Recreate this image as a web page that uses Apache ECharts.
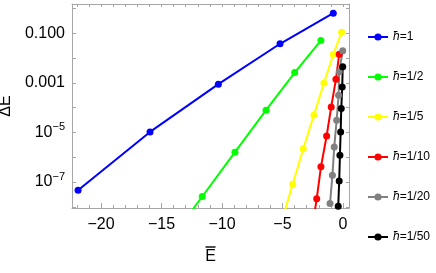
<!DOCTYPE html>
<html>
<head>
<meta charset="utf-8">
<script src="https://cdn.jsdelivr.net/npm/echarts@6/dist/echarts.min.js"></script>
<style>
html,body{margin:0;padding:0;background:#fff;}
#c{width:436px;height:273px;}
</style>
</head>
<body>
<div id="c"></div>
<script>
// ---- data ----
const seriesNames = ['1', '1/2', '1/5', '1/10', '1/20', '1/50'];
const seriesColors = ['#0000ff', '#00ff00', '#ffff00', '#ff0000', '#808080', '#000000'];

const xH1 = [-21.9, -15.95, -10.3, -5.2, -0.8];
const yH1 = [4.6e-8, 1.05e-5, 8.9e-4, 0.038, 0.65];

const xH2 = [-14.48, -11.63, -8.93, -6.36, -3.99, -1.82];
const yH2 = [3.3e-10, 2.6e-8, 1.6e-6, 7.9e-5, 2.6e-3, 0.052];

const xH5 = [-5.06, -4.16, -3.28, -2.40, -1.57, -0.80, -0.11];
const yH5 = [2.6e-9, 8.1e-8, 2.2e-6, 5.1e-5, 1.0e-3, 0.014, 0.112];

const xH10 = [-2.57, -2.17, -1.82, -1.35, -0.97, -0.58, -0.31];
const yH10 = [1.1e-9, 2.1e-8, 4.1e-7, 7.2e-6, 1.07e-4, 1.4e-3, 0.0145];

const xH20 = [-1.07, -0.87, -0.72, -0.52, -0.36, -0.31, -0.02];
const yH20 = [1.35e-8, 1.86e-7, 2.6e-6, 3.1e-5, 3.2e-4, 2.8e-3, 0.02];

const xH50 = [-0.39, -0.31, -0.25, -0.19, -0.14, -0.06, -0.02];
const yH50 = [1.05e-8, 1.1e-7, 1.2e-6, 1.05e-5, 9.3e-5, 6.9e-4, 4.5e-3];

const xMajorTicks = [-20, -15, -10, -5, 0];
const xMinorTicks = [-22, -21, -20, -19, -18, -17, -16, -15, -14, -13, -12, -11, -10, -9, -8, -7, -6, -5, -4, -3, -2, -1, 0];
const yTicks = [1e-8, 1e-7, 1e-6, 1e-5, 1e-4, 1e-3, 1e-2, 1e-1, 1];
const yLabelValues = [1e-7, 1e-5, 1e-3, 1e-1];
const yLabelTexts = ['10{s|\u22127}', '10{s|\u22125}', '0.001', '0.100'];

const xMin = -22.4, xMax = 0.5;
const yMin = Math.pow(10, -8.05), yMax = Math.pow(10, 0.185);

// ---- chart ----
const allX = [xH1, xH2, xH5, xH10, xH20, xH50];
const allY = [yH1, yH2, yH5, yH10, yH20, yH50];

const font = 'Liberation Sans, Arial, sans-serif';
const frameColor = '#a6a6a6';

function fmtX(v) {
  const r = Math.round(v);
  if (Math.abs(v - r) > 1e-6) return '';
  return r < 0 ? '\u2212' + (-r) : String(r);
}
function fmtY(v) {
  for (let i = 0; i < yLabelValues.length; i++) {
    if (Math.abs(Math.log10(v) - Math.log10(yLabelValues[i])) < 0.01) return yLabelTexts[i];
  }
  return '';
}

const series = seriesNames.map((n, i) => ({
  name: n,
  type: 'line',
  xAxisIndex: 0,
  yAxisIndex: 0,
  data: allX[i].map((x, j) => [x, allY[i][j]]),
  symbol: 'circle',
  symbolSize: 7,
  showSymbol: true,
  clip: true,
  color: seriesColors[i],
  lineStyle: { width: 2, color: seriesColors[i] },
  itemStyle: { color: seriesColors[i] },
  emphasis: { disabled: true },
  animation: false
}));

const baseX = {
  type: 'value', min: xMin, max: xMax,
  splitLine: { show: false },
  axisLine: { show: true, onZero: false, lineStyle: { color: frameColor, width: 1 } }
};
const baseY = {
  type: 'log', logBase: 10, min: yMin, max: yMax,
  splitLine: { show: false },
  axisLine: { show: true, onZero: false, lineStyle: { color: frameColor, width: 1 } }
};

const option = {
  animation: false,
  backgroundColor: '#ffffff',
  grid: { left: 72, top: 4, right: 87, bottom: 65, containLabel: false, outerBoundsMode: 'none' },
  xAxis: [
    Object.assign({}, baseX, {
      position: 'bottom',
      name: '{b| }\n{e|E}', nameLocation: 'middle', nameGap: 37,
      nameTextStyle: {
        fontFamily: font, fontSize: 16, color: '#000', align: 'center',
        rich: {
          b: { fontSize: 1, width: 10, height: 1.4, lineHeight: 4, backgroundColor: '#000', align: 'center' },
          e: { fontFamily: font, fontSize: 16, lineHeight: 16, color: '#000', align: 'center' }
        }
      },
      axisTick: { show: true, inside: true, length: 5, customValues: xMajorTicks, lineStyle: { color: frameColor } },
      axisLabel: { show: true, customValues: xMajorTicks, formatter: fmtX, fontFamily: font, fontSize: 16, color: '#000', margin: 9 }
    }),
    Object.assign({}, baseX, {
      position: 'bottom',
      axisLine: { show: false },
      axisTick: { show: true, inside: true, length: 3, customValues: xMinorTicks, lineStyle: { color: frameColor } },
      axisLabel: { show: false }
    }),
    Object.assign({}, baseX, {
      position: 'top',
      axisTick: { show: true, inside: true, length: 3, customValues: xMinorTicks, lineStyle: { color: frameColor } },
      axisLabel: { show: false }
    })
  ],
  yAxis: [
    Object.assign({}, baseY, {
      position: 'left',
      name: '\u0394E', nameLocation: 'middle', nameGap: 52, nameRotate: 90,
      nameTextStyle: { fontFamily: font, fontSize: 16, color: '#000' },
      axisTick: { show: true, inside: true, length: 4, customValues: yTicks, lineStyle: { color: frameColor } },
      axisLabel: {
        show: true, customValues: yLabelValues, formatter: fmtY, fontFamily: font, fontSize: 16, color: '#000', margin: 7,
        rich: { s: { fontFamily: font, fontSize: 11, verticalAlign: 'top', padding: [0, 0, 10, 0], color: '#000' } }
      }
    }),
    Object.assign({}, baseY, {
      position: 'right',
      axisTick: { show: true, inside: true, length: 3, customValues: yTicks, lineStyle: { color: frameColor } },
      axisLabel: { show: false }
    })
  ],
  legend: {
    orient: 'vertical',
    left: 362, top: 25,
    itemWidth: 20, itemHeight: 9, itemGap: 26,
    data: seriesNames,
    formatter: n => '{i|\u0127}=' + n,
    textStyle: {
      fontFamily: font, fontSize: 12, color: '#000', lineHeight: 14,
      rich: { i: { fontFamily: font, fontSize: 12, fontStyle: 'italic', color: '#000', lineHeight: 14 } }
    },
    selectedMode: false
  },
  series: series
};

const chart = echarts.init(document.getElementById('c'), null, { renderer: 'canvas' });
chart.setOption(option);
</script>
</body>
</html>
